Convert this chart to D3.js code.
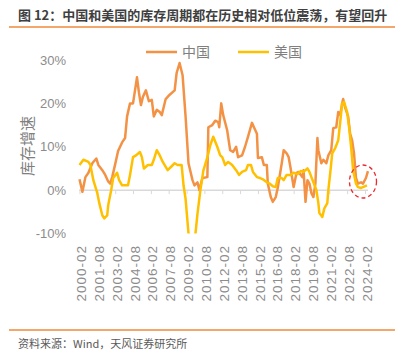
<!DOCTYPE html>
<html>
<head>
<meta charset="utf-8">
<script src="https://cdn.jsdelivr.net/npm/d3@7"></script>
<style>
  body { margin: 0; background: #fff; }
  text { font-family: "Liberation Sans", "Noto Sans CJK SC", sans-serif; }
  .cjk { font-family: "Noto Sans CJK SC", sans-serif; }
</style>
</head>
<body>
<svg class="chart"></svg>
<script>
const width = 410;
const height = 353;

const title = "图 12：中国和美国的库存周期都在历史相对低位震荡，有望回升";
const source = "资料来源：Wind，天风证券研究所";
const seriesNames = ["中国", "美国"];
const seriesColors = ["#f39244", "#ffc000"];
const yTicks = [-10, 0, 10, 20, 30];
const xTickLabels = ["2000-02", "2001-08", "2003-02", "2004-08", "2006-02", "2007-08",
  "2009-02", "2010-08", "2012-02", "2013-08", "2015-02", "2016-08", "2018-02",
  "2019-08", "2021-02", "2022-08", "2024-02"];

// 中国 库存增速 (%)
const chinaDates = ["2000-02","2000-05","2000-08","2000-11","2001-03","2001-07","2001-09",
  "2002-01","2002-04","2002-07","2002-09","2002-11","2003-02","2003-05","2003-09","2003-12",
  "2004-02","2004-05","2004-08","2004-10","2004-12","2005-02","2005-04","2005-06","2005-09",
  "2005-12","2006-03","2006-05","2006-08","2006-11","2007-01","2007-05","2007-09","2008-02",
  "2008-04","2008-07","2008-10","2009-01","2009-04","2009-08","2009-10","2010-01","2010-03",
  "2010-06","2010-11","2010-12","2011-04","2011-07","2011-10","2011-11","2012-01","2012-03",
  "2012-07","2012-10","2013-01","2013-04","2013-06","2013-10","2014-01","2014-04","2014-08",
  "2014-10","2015-01","2015-02","2015-06","2015-08","2015-11","2015-12","2016-03","2016-05",
  "2016-08","2016-10","2017-02","2017-04","2017-07","2017-09","2017-11","2018-02","2018-05",
  "2018-07","2018-11","2018-12","2019-02","2019-04","2019-06","2019-08","2019-10","2019-12",
  "2020-02","2020-03","2020-06","2020-08","2020-11","2021-01","2021-04","2021-06","2021-09",
  "2021-11","2022-01","2022-03","2022-04","2022-06","2022-09","2022-11","2023-01","2023-03",
  "2023-05","2023-07","2023-10","2023-12","2024-03","2024-05"];
const chinaValues = [2.5,-0.4,3,4,6.2,7.3,5.8,
  4.6,3.5,2,1.5,3,6,9,11,12,
  17,20,20,23,26,22.4,19.6,21.5,23,
  20.5,20.8,17,18.5,18,17.3,21,22,23,
  27,29.3,26.5,17,6.2,2.3,1.1,1.8,0,
  2.8,3,14.5,15,16,15.7,14.5,20,17.3,
  13.8,9.2,8.8,10,7.6,8,10,12.3,15.5,
  14.5,13,7.4,7.6,5.8,5.8,1.5,-1.6,-2.7,
  -1.6,0.5,6.2,9.2,8.5,7.6,5,0.7,4,
  4.2,3,4.6,-2.7,2.3,1.5,-0.7,-1.6,1.5,
  12,9.2,6.2,7,6.2,8,9.2,14.3,14.5,
  18,17.3,20,21,19,17,13,11.5,8.5,
  2.8,1.5,1.8,1.5,2.8,4.4];

// 美国 库存增速 (%)
const usDates = ["2000-02","2000-06","2000-11","2001-01","2001-04","2001-08","2001-10",
  "2002-01","2002-03","2002-06","2002-07","2002-10","2002-12","2003-04","2003-06","2003-09",
  "2003-12","2004-03","2004-05","2004-08","2004-11","2005-03","2005-05","2005-07","2005-11",
  "2006-03","2006-05","2006-08","2006-11","2007-02","2007-07","2007-11","2008-02","2008-05",
  "2008-09","2008-11","2009-01","2009-04","2009-06","2009-09","2009-11","2010-01","2010-04",
  "2010-07","2010-11","2011-02","2011-05","2011-09","2011-12","2012-02","2012-05","2012-08",
  "2012-12","2013-04","2013-07","2013-10","2014-02","2014-04","2014-07","2014-09","2015-01",
  "2015-04","2015-07","2015-11","2016-02","2016-05","2016-08","2016-10","2017-02","2017-04",
  "2017-07","2017-11","2018-02","2018-06","2018-09","2018-12","2019-04","2019-06","2019-08",
  "2019-10","2020-01","2020-03","2020-04","2020-07","2020-09","2020-12","2021-01","2021-03",
  "2021-05","2021-08","2021-11","2022-01","2022-03","2022-05","2022-08","2022-10","2022-12",
  "2023-02","2023-05","2023-07","2023-10","2023-12","2024-04"];
const usValues = [5.8,7,6.5,5.8,2.3,-0.7,-3,
  -5.8,-6.5,-5.8,-3.5,0,2.8,4,2.3,1.1,
  1.1,1.1,3.5,7.6,8,8.8,7.6,5,5.8,
  5.8,7,9.2,8,6.5,4.6,5.5,6.2,5.8,
  5.8,1,-2,-10,-13,-13,-10,-5.5,0,
  4.5,7.6,10.4,12.3,10,8,7.6,5.8,6.5,
  5.8,4.6,3.5,4.2,4.6,5.8,5.8,4.2,3,
  2.8,2.5,1.8,1.5,0.9,0.7,2.8,2.8,2.3,
  3.5,3.5,4,3.7,4.4,4.2,5,4.2,3,
  1.8,0,-3,-5.3,-6.2,-4.2,-3,0,4,
  8.5,9.7,11.5,15.7,20,20.3,18,14.5,10,
  4.6,1.5,0.7,0.5,0.7,1.1];

const parseMonth = d3.timeParse("%Y-%m");
const svg = d3.select(".chart").attr("width", width).attr("height", height);

const x = d3.scaleTime()
  .domain([parseMonth("2000-02"), parseMonth("2024-02")])
  .range([79.5, 365]);
const y = d3.scaleLinear().domain([-10, 30]).range([233.5, 60]);

drawFrame();
drawAxes();
drawLines();
drawLegend();
drawMarker();

function drawFrame() {
  svg.append("text").attr("class", "cjk")
    .attr("x", 18).attr("y", 20)
    .attr("font-size", 13).attr("font-weight", "bold").attr("fill", "#3f3f3f")
    .text(title);
  svg.append("line").attr("x1", 9).attr("x2", 395).attr("y1", 27).attr("y2", 27)
    .attr("stroke", "#f08a3a").attr("stroke-width", 1.5);
  svg.append("line").attr("x1", 9).attr("x2", 395).attr("y1", 330).attr("y2", 330)
    .attr("stroke", "#f08a3a").attr("stroke-width", 1.5);
  svg.append("text").attr("class", "cjk")
    .attr("x", 18).attr("y", 348)
    .attr("font-size", 11).attr("fill", "#595959")
    .text(source);
}

function drawAxes() {
  // y labels
  svg.append("g")
    .attr("transform", "translate(66,0)")
    .call(d3.axisLeft(y).tickValues(yTicks).tickSize(0).tickPadding(0)
      .tickFormat(d => d + "%"))
    .call(g => g.select(".domain").remove())
    .selectAll("text")
    .attr("font-size", 13).attr("fill", "#8c8c8c")
    .attr("font-family", "Liberation Sans");

  // zero line with ticks
  const xTicks = xTickLabels.map(parseMonth);
  svg.append("g")
    .attr("transform", `translate(0,${y(0)})`)
    .call(d3.axisBottom(x).tickValues(xTicks).tickSize(4).tickFormat(""))
    .call(g => g.select(".domain").attr("d", `M79,0H368`).attr("stroke", "#d9d9d9").attr("stroke-width", 1.5))
    .call(g => g.selectAll(".tick line").attr("stroke", "#d9d9d9"));

  // x labels at the bottom
  svg.append("g")
    .attr("transform", "translate(0,245)")
    .call(d3.axisBottom(x).tickValues(xTicks).tickSize(0).tickFormat(d3.timeFormat("%Y-%m")))
    .call(g => g.select(".domain").remove())
    .selectAll("text")
    .attr("transform", "rotate(-90)")
    .attr("text-anchor", "end")
    .attr("x", 0).attr("y", 0)
    .attr("dy", "0.45em")
    .attr("font-size", 13.5).attr("letter-spacing", 1)
    .attr("fill", "#8c8c8c").attr("font-family", "Liberation Sans");

  svg.append("text").attr("class", "cjk")
    .attr("transform", "translate(33,146) rotate(-90)")
    .attr("text-anchor", "middle")
    .attr("font-size", 15).attr("fill", "#7f7f7f")
    .text("库存增速");
}

function drawLines() {
  svg.append("clipPath").attr("id", "plot")
    .append("rect").attr("x", 70).attr("y", y(30) - 4)
    .attr("width", 310).attr("height", y(-10) - y(30) + 4);

  const line = d3.line()
    .x(d => x(d.date))
    .y(d => y(d.value));

  const chinaData = chinaDates.map((d, i) => ({ date: parseMonth(d), value: chinaValues[i] }));
  const usData = usDates.map((d, i) => ({ date: parseMonth(d), value: usValues[i] }));

  [chinaData, usData].forEach((data, i) => {
    svg.append("path")
      .datum(data)
      .attr("clip-path", "url(#plot)")
      .attr("d", line)
      .attr("fill", "none")
      .attr("stroke", seriesColors[i])
      .attr("stroke-width", 2.5)
      .attr("stroke-linejoin", "round");
  });
}

function drawLegend() {
  const items = [{ x: 146 }, { x: 238 }];
  items.forEach((it, i) => {
    svg.append("line")
      .attr("x1", it.x).attr("x2", it.x + 31).attr("y1", 52).attr("y2", 52)
      .attr("stroke", seriesColors[i]).attr("stroke-width", 2.5);
    svg.append("text").attr("class", "cjk")
      .attr("x", it.x + 36).attr("y", 57)
      .attr("font-size", 14).attr("fill", "#7f7f7f")
      .text(seriesNames[i]);
  });
}

function drawMarker() {
  svg.append("ellipse")
    .attr("cx", x(parseMonth("2023-12"))).attr("cy", 181.5)
    .attr("rx", 13.5).attr("ry", 16.5)
    .attr("fill", "none")
    .attr("stroke", "#f0282d").attr("stroke-width", 1.3)
    .attr("stroke-dasharray", "4,3");
}
</script>
</body>
</html>
